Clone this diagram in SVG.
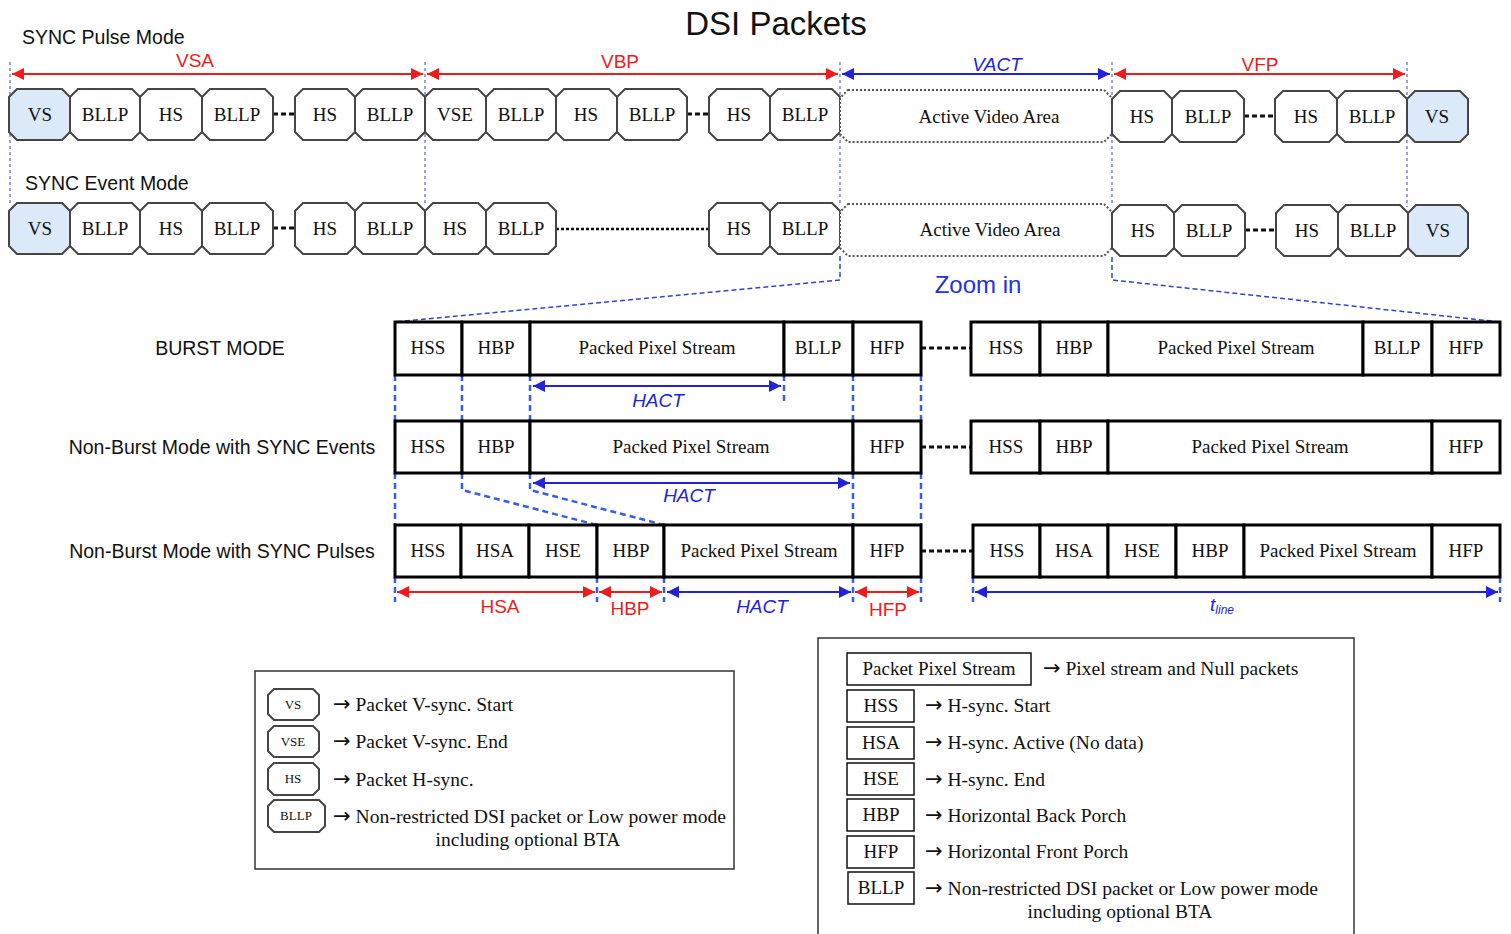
<svg xmlns="http://www.w3.org/2000/svg" width="1511" height="934" viewBox="0 0 1511 934">
<style>
.bg{fill:#fff}
.oct{fill:#fff;stroke:#454545;stroke-width:2}
.vs{fill:#dce9f8;stroke:#454545;stroke-width:2}
.ava{fill:#fff;stroke:#555;stroke-width:2;stroke-dasharray:2 2}
.t{font-family:"Liberation Serif","Times New Roman",serif;font-size:19px;fill:#111;text-anchor:middle}
.ts{font-family:"Liberation Serif","Times New Roman",serif;font-size:13px;fill:#111;text-anchor:middle}
.lt{font-family:"Liberation Serif","Times New Roman",serif;font-size:19.5px;fill:#111}
.ar{font-family:"DejaVu Sans",sans-serif;font-size:21px}
.s{font-family:"Liberation Sans",Arial,sans-serif;fill:#111}
.red{font-family:"Liberation Sans",Arial,sans-serif;font-size:19px;fill:#ee1c1c;text-anchor:middle}
.blue{font-family:"Liberation Sans",Arial,sans-serif;font-size:19px;fill:#2222dd;text-anchor:middle;font-style:italic}
.box{fill:#fff;stroke:#000;stroke-width:3}
.lbox{fill:#fff;stroke:#111;stroke-width:1.5}
.dash{stroke:#111;stroke-width:3;stroke-dasharray:5 3;fill:none}
.dot{stroke:#111;stroke-width:2.5;stroke-dasharray:3 2;fill:none}
.vdot{stroke:#5566cc;stroke-width:1.2;stroke-dasharray:3 3;fill:none}
.zl{stroke:#3344cc;stroke-width:1.5;stroke-dasharray:5 3;fill:none}
.vd{stroke:#3b5ee0;stroke-width:2.5;stroke-dasharray:6 4;fill:none}
.ra{stroke:#ee1c1c;stroke-width:2;marker-start:url(#mr);marker-end:url(#mr)}
.ba{stroke:#2222dd;stroke-width:2;marker-start:url(#mb);marker-end:url(#mb)}
</style>
<defs>
<marker id="mr" viewBox="0 0 10 10" refX="10" refY="5" markerWidth="14" markerHeight="12" markerUnits="userSpaceOnUse" orient="auto-start-reverse"><path d="M0,0 L10,5 L0,10 z" fill="#ee1c1c"/></marker>
<marker id="mb" viewBox="0 0 10 10" refX="10" refY="5" markerWidth="14" markerHeight="12" markerUnits="userSpaceOnUse" orient="auto-start-reverse"><path d="M0,0 L10,5 L0,10 z" fill="#2222dd"/></marker>
</defs>
<rect class="bg" x="0" y="0" width="1511" height="934"/>

<text class="s" x="776" y="35" font-size="33" text-anchor="middle">DSI Packets</text>
<text class="s" x="22" y="44" font-size="19.5">SYNC Pulse Mode</text>
<text class="s" x="25" y="190" font-size="19.5">SYNC Event Mode</text>

<g id="connectors">
<path class="vdot" d="M10,62 V205 M425,62 V205 M840,62 V205 M1112,62 V205 M1407,62 V207"/>
<line class="ra" x1="12" y1="74" x2="423" y2="74"/>
<line class="ra" x1="427" y1="74" x2="838" y2="74"/>
<line class="ba" x1="842" y1="74" x2="1110" y2="74"/>
<line class="ra" x1="1114" y1="74" x2="1405" y2="74"/>
<path class="dash" d="M273,114 H295 M687,114 H709 M1244,116 H1275 M273,228 H295 M1245,230 H1276"/>
<path class="dot" d="M556,229 H709"/>
<path class="zl" d="M840,256 V280 L395,322 M1112,257 V280 L1500,322"/>
<path class="dash" d="M921,348 H971 M921,447 H971 M921,551 H973"/>
<path class="vd" d="M395,375 V421 M462,375 V421 M530,375 V421 M784,375 V403 M853,375 V421 M921,375 V421"/>
<path class="vd" d="M395,473 V525 M462,473 V490 L597,525 M530,473 V490 L664,525 M853,473 V525 M921,473 V525"/>
<path class="vd" d="M395,577 V602 M597,577 V602 M664,577 V602 M853,577 V602 M921,577 V602 M973,577 V602 M1500,577 V602"/>
<line class="ba" x1="533" y1="386" x2="781" y2="386"/>
<line class="ba" x1="533" y1="483" x2="850" y2="483"/>
<line class="ra" x1="397" y1="592" x2="595" y2="592"/>
<line class="ra" x1="599" y1="592" x2="662" y2="592"/>
<line class="ba" x1="667" y1="592" x2="851" y2="592"/>
<line class="ra" x1="855" y1="592" x2="919" y2="592"/>
<line class="ba" x1="975" y1="592" x2="1498" y2="592"/>
</g>

<text class="red" x="195" y="67">VSA</text>
<text class="red" x="620" y="68">VBP</text>
<text class="blue" x="997" y="71">VACT</text>
<text class="red" x="1260" y="71">VFP</text>

<g id="row1">
<path class="vs" d="M17,89 h45 l8,8 v35 l-8,8 h-45 l-8,-8 v-35 z"/><text class="t" x="40" y="121">VS</text>
<path class="oct" d="M78,89 h54 l8,8 v35 l-8,8 h-54 l-8,-8 v-35 z"/><text class="t" x="105" y="121">BLLP</text>
<path class="oct" d="M148,89 h46 l8,8 v35 l-8,8 h-46 l-8,-8 v-35 z"/><text class="t" x="171" y="121">HS</text>
<path class="oct" d="M210,89 h55 l8,8 v35 l-8,8 h-55 l-8,-8 v-35 z"/><text class="t" x="237" y="121">BLLP</text>
<path class="oct" d="M303,89 h44 l8,8 v35 l-8,8 h-44 l-8,-8 v-35 z"/><text class="t" x="325" y="121">HS</text>
<path class="oct" d="M363,89 h54 l8,8 v35 l-8,8 h-54 l-8,-8 v-35 z"/><text class="t" x="390" y="121">BLLP</text>
<path class="oct" d="M433,89 h45 l8,8 v35 l-8,8 h-45 l-8,-8 v-35 z"/><text class="t" x="455" y="121">VSE</text>
<path class="oct" d="M494,89 h54 l8,8 v35 l-8,8 h-54 l-8,-8 v-35 z"/><text class="t" x="521" y="121">BLLP</text>
<path class="oct" d="M564,89 h45 l8,8 v35 l-8,8 h-45 l-8,-8 v-35 z"/><text class="t" x="586" y="121">HS</text>
<path class="oct" d="M625,89 h54 l8,8 v35 l-8,8 h-54 l-8,-8 v-35 z"/><text class="t" x="652" y="121">BLLP</text>
<path class="oct" d="M717,89 h45 l8,8 v35 l-8,8 h-45 l-8,-8 v-35 z"/><text class="t" x="739" y="121">HS</text>
<path class="oct" d="M778,89 h54 l8,8 v35 l-8,8 h-54 l-8,-8 v-35 z"/><text class="t" x="805" y="121">BLLP</text>
<path class="ava" d="M848,90 h256 l8,8 v36 l-8,8 h-256 l-8,-8 v-36 z"/><text class="t" x="989" y="123">Active Video Area</text>
<path class="oct" d="M1120,91 h44 l8,8 v35 l-8,8 h-44 l-8,-8 v-35 z"/><text class="t" x="1142" y="123">HS</text>
<path class="oct" d="M1180,91 h56 l8,8 v35 l-8,8 h-56 l-8,-8 v-35 z"/><text class="t" x="1208" y="123">BLLP</text>
<path class="oct" d="M1283,91 h46 l8,8 v35 l-8,8 h-46 l-8,-8 v-35 z"/><text class="t" x="1306" y="123">HS</text>
<path class="oct" d="M1345,91 h54 l8,8 v35 l-8,8 h-54 l-8,-8 v-35 z"/><text class="t" x="1372" y="123">BLLP</text>
<path class="vs" d="M1415,91 h45 l8,8 v35 l-8,8 h-45 l-8,-8 v-35 z"/><text class="t" x="1437" y="123">VS</text>
</g>

<g id="row2">
<path class="vs" d="M17,203 h45 l8,8 v35 l-8,8 h-45 l-8,-8 v-35 z"/><text class="t" x="40" y="235">VS</text>
<path class="oct" d="M78,203 h54 l8,8 v35 l-8,8 h-54 l-8,-8 v-35 z"/><text class="t" x="105" y="235">BLLP</text>
<path class="oct" d="M148,203 h46 l8,8 v35 l-8,8 h-46 l-8,-8 v-35 z"/><text class="t" x="171" y="235">HS</text>
<path class="oct" d="M210,203 h55 l8,8 v35 l-8,8 h-55 l-8,-8 v-35 z"/><text class="t" x="237" y="235">BLLP</text>
<path class="oct" d="M303,203 h44 l8,8 v35 l-8,8 h-44 l-8,-8 v-35 z"/><text class="t" x="325" y="235">HS</text>
<path class="oct" d="M363,203 h54 l8,8 v35 l-8,8 h-54 l-8,-8 v-35 z"/><text class="t" x="390" y="235">BLLP</text>
<path class="oct" d="M433,203 h45 l8,8 v35 l-8,8 h-45 l-8,-8 v-35 z"/><text class="t" x="455" y="235">HS</text>
<path class="oct" d="M494,203 h54 l8,8 v35 l-8,8 h-54 l-8,-8 v-35 z"/><text class="t" x="521" y="235">BLLP</text>
<path class="oct" d="M717,203 h45 l8,8 v35 l-8,8 h-45 l-8,-8 v-35 z"/><text class="t" x="739" y="235">HS</text>
<path class="oct" d="M778,203 h54 l8,8 v35 l-8,8 h-54 l-8,-8 v-35 z"/><text class="t" x="805" y="235">BLLP</text>
<path class="ava" d="M848,204 h256 l8,8 v36 l-8,8 h-256 l-8,-8 v-36 z"/><text class="t" x="990" y="236">Active Video Area</text>
<path class="oct" d="M1120,205 h46 l8,8 v35 l-8,8 h-46 l-8,-8 v-35 z"/><text class="t" x="1143" y="237">HS</text>
<path class="oct" d="M1182,205 h55 l8,8 v35 l-8,8 h-55 l-8,-8 v-35 z"/><text class="t" x="1209" y="237">BLLP</text>
<path class="oct" d="M1284,205 h46 l8,8 v35 l-8,8 h-46 l-8,-8 v-35 z"/><text class="t" x="1307" y="237">HS</text>
<path class="oct" d="M1346,205 h54 l8,8 v35 l-8,8 h-54 l-8,-8 v-35 z"/><text class="t" x="1373" y="237">BLLP</text>
<path class="vs" d="M1416,205 h44 l8,8 v35 l-8,8 h-44 l-8,-8 v-35 z"/><text class="t" x="1438" y="237">VS</text>
</g>

<text class="s" x="978" y="293" font-size="24" text-anchor="middle" style="fill:#2233dd">Zoom in</text>

<g id="burst">
<text class="s" x="220" y="355" font-size="19.5" text-anchor="middle">BURST MODE</text>
<rect class="box" x="395" y="322" width="67" height="53"/><text class="t" x="428" y="354">HSS</text>
<rect class="box" x="462" y="322" width="68" height="53"/><text class="t" x="496" y="354">HBP</text>
<rect class="box" x="530" y="322" width="254" height="53"/><text class="t" x="657" y="354">Packed Pixel Stream</text>
<rect class="box" x="784" y="322" width="69" height="53"/><text class="t" x="818" y="354">BLLP</text>
<rect class="box" x="853" y="322" width="68" height="53"/><text class="t" x="887" y="354">HFP</text>
<rect class="box" x="971" y="322" width="69" height="53"/><text class="t" x="1006" y="354">HSS</text>
<rect class="box" x="1040" y="322" width="68" height="53"/><text class="t" x="1074" y="354">HBP</text>
<rect class="box" x="1108" y="322" width="255" height="53"/><text class="t" x="1236" y="354">Packed Pixel Stream</text>
<rect class="box" x="1363" y="322" width="69" height="53"/><text class="t" x="1397" y="354">BLLP</text>
<rect class="box" x="1432" y="322" width="68" height="53"/><text class="t" x="1466" y="354">HFP</text>
<text class="blue" x="658" y="407">HACT</text>
</g>

<g id="nonburst-events">
<text class="s" x="222" y="454" font-size="19.5" text-anchor="middle">Non-Burst Mode with SYNC Events</text>
<rect class="box" x="395" y="421" width="67" height="52"/><text class="t" x="428" y="453">HSS</text>
<rect class="box" x="462" y="421" width="68" height="52"/><text class="t" x="496" y="453">HBP</text>
<rect class="box" x="530" y="421" width="323" height="52"/><text class="t" x="691" y="453">Packed Pixel Stream</text>
<rect class="box" x="853" y="421" width="68" height="52"/><text class="t" x="887" y="453">HFP</text>
<rect class="box" x="971" y="421" width="69" height="52"/><text class="t" x="1006" y="453">HSS</text>
<rect class="box" x="1040" y="421" width="68" height="52"/><text class="t" x="1074" y="453">HBP</text>
<rect class="box" x="1108" y="421" width="324" height="52"/><text class="t" x="1270" y="453">Packed Pixel Stream</text>
<rect class="box" x="1432" y="421" width="68" height="52"/><text class="t" x="1466" y="453">HFP</text>
<text class="blue" x="689" y="502">HACT</text>
</g>

<g id="nonburst-pulses">
<text class="s" x="222" y="558" font-size="19.5" text-anchor="middle">Non-Burst Mode with SYNC Pulses</text>
<rect class="box" x="395" y="525" width="66" height="52"/><text class="t" x="428" y="557">HSS</text>
<rect class="box" x="461" y="525" width="68" height="52"/><text class="t" x="495" y="557">HSA</text>
<rect class="box" x="529" y="525" width="68" height="52"/><text class="t" x="563" y="557">HSE</text>
<rect class="box" x="597" y="525" width="67" height="52"/><text class="t" x="631" y="557">HBP</text>
<rect class="box" x="664" y="525" width="189" height="52"/><text class="t" x="759" y="557">Packed Pixel Stream</text>
<rect class="box" x="853" y="525" width="68" height="52"/><text class="t" x="887" y="557">HFP</text>
<rect class="box" x="973" y="525" width="67" height="52"/><text class="t" x="1007" y="557">HSS</text>
<rect class="box" x="1040" y="525" width="68" height="52"/><text class="t" x="1074" y="557">HSA</text>
<rect class="box" x="1108" y="525" width="68" height="52"/><text class="t" x="1142" y="557">HSE</text>
<rect class="box" x="1176" y="525" width="68" height="52"/><text class="t" x="1210" y="557">HBP</text>
<rect class="box" x="1244" y="525" width="188" height="52"/><text class="t" x="1338" y="557">Packed Pixel Stream</text>
<rect class="box" x="1432" y="525" width="68" height="52"/><text class="t" x="1466" y="557">HFP</text>
<text class="red" x="500" y="613">HSA</text>
<text class="red" x="630" y="615">HBP</text>
<text class="blue" x="762" y="613">HACT</text>
<text class="red" x="888" y="616">HFP</text>
<text class="blue" x="1222" y="611">t<tspan font-size="12" dy="3">line</tspan></text>
</g>

<g id="legend1">
<rect x="255" y="671" width="479" height="198" fill="#fff" stroke="#333" stroke-width="1.5"/>
<path class="oct" stroke-width="1.5" d="M274,689 h39 l6,6 v19 l-6,6 h-39 l-6,-6 v-19 z"/><text class="ts" x="293" y="709">VS</text>
<path class="oct" stroke-width="1.5" d="M274,726 h39 l6,6 v19 l-6,6 h-39 l-6,-6 v-19 z"/><text class="ts" x="293" y="746">VSE</text>
<path class="oct" stroke-width="1.5" d="M274,763 h39 l6,6 v20 l-6,6 h-39 l-6,-6 v-20 z"/><text class="ts" x="293" y="783">HS</text>
<path class="oct" stroke-width="1.5" d="M274,800 h45 l6,6 v20 l-6,6 h-45 l-6,-6 v-20 z"/><text class="ts" x="296" y="820">BLLP</text>
<text class="lt" x="333" y="711"><tspan class="ar">→</tspan> Packet V-sync. Start</text>
<text class="lt" x="333" y="748"><tspan class="ar">→</tspan> Packet V-sync. End</text>
<text class="lt" x="333" y="786"><tspan class="ar">→</tspan> Packet H-sync.</text>
<text class="lt" x="333" y="823" textLength="393" lengthAdjust="spacingAndGlyphs"><tspan class="ar">→</tspan> Non-restricted DSI packet or Low power mode</text>
<text class="lt" x="528" y="846" text-anchor="middle">including optional BTA</text>
</g>

<g id="legend2">
<rect x="818" y="638" width="536" height="300" fill="#fff" stroke="#333" stroke-width="1.5"/>
<rect class="lbox" x="847" y="653" width="184" height="32"/><text class="t" x="939" y="675" font-size="18">Packet Pixel Stream</text>
<rect class="lbox" x="847" y="690" width="67" height="32"/><text class="t" x="881" y="712">HSS</text>
<rect class="lbox" x="847" y="727" width="67" height="32"/><text class="t" x="881" y="749">HSA</text>
<rect class="lbox" x="847" y="763" width="67" height="32"/><text class="t" x="881" y="785">HSE</text>
<rect class="lbox" x="847" y="799" width="67" height="32"/><text class="t" x="881" y="821">HBP</text>
<rect class="lbox" x="847" y="836" width="67" height="32"/><text class="t" x="881" y="858">HFP</text>
<rect class="lbox" x="848" y="872" width="66" height="32"/><text class="t" x="881" y="894">BLLP</text>
<text class="lt" x="1043" y="675"><tspan class="ar">→</tspan> Pixel stream and Null packets</text>
<text class="lt" x="925" y="712"><tspan class="ar">→</tspan> H-sync. Start</text>
<text class="lt" x="925" y="749"><tspan class="ar">→</tspan> H-sync. Active (No data)</text>
<text class="lt" x="925" y="786"><tspan class="ar">→</tspan> H-sync. End</text>
<text class="lt" x="925" y="822"><tspan class="ar">→</tspan> Horizontal Back Porch</text>
<text class="lt" x="925" y="858"><tspan class="ar">→</tspan> Horizontal Front Porch</text>
<text class="lt" x="925" y="895" textLength="393" lengthAdjust="spacingAndGlyphs"><tspan class="ar">→</tspan> Non-restricted DSI packet or Low power mode</text>
<text class="lt" x="1120" y="918" text-anchor="middle">including optional BTA</text>
</g>
</svg>
